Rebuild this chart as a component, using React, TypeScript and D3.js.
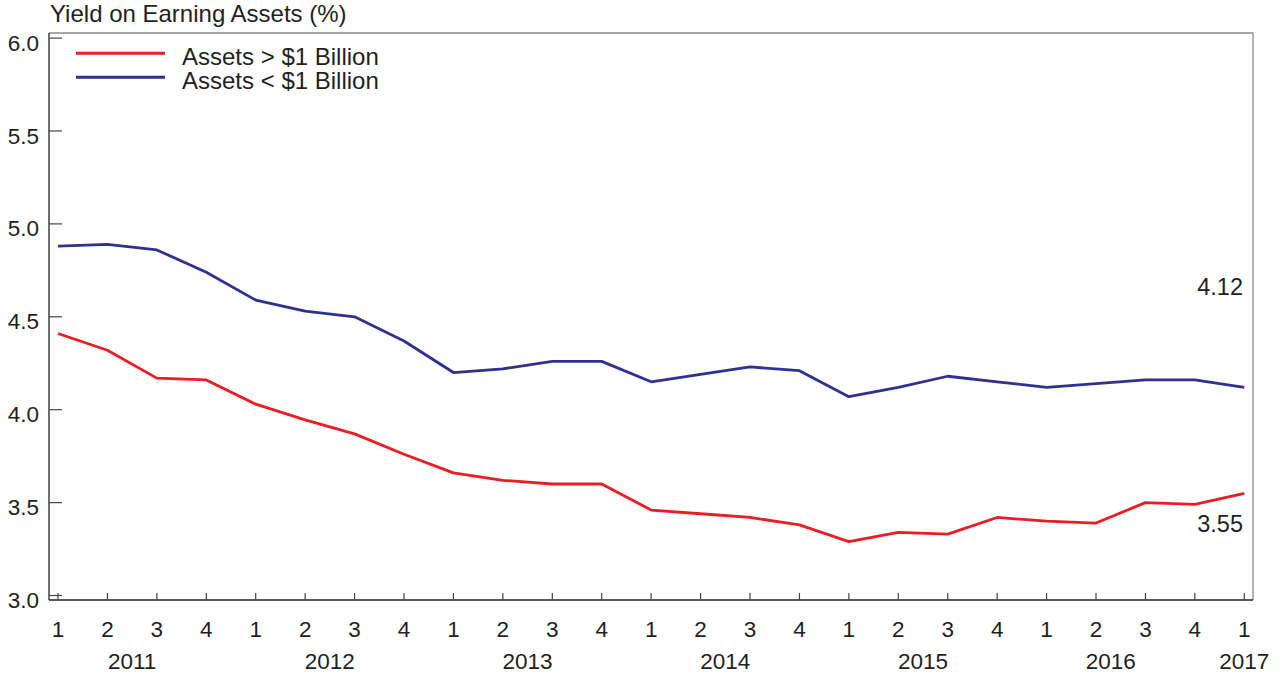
import React from "react";
import * as d3 from "d3";

const quarters = ["1","2","3","4","1","2","3","4","1","2","3","4","1","2","3","4","1","2","3","4","1","2","3","4","1"];
const years = ["2011","2012","2013","2014","2015","2016","2017"];
// position (in quarter index units) of each year label
const yearPos = [1.5, 5.5, 9.5, 13.5, 17.5, 21.3, 24];
const large = [4.41,4.32,4.17,4.16,4.03,3.945,3.87,3.76,3.66,3.62,3.60,3.60,3.46,3.44,3.42,3.38,3.29,3.34,3.33,3.42,3.40,3.39,3.50,3.49,3.55];
const small = [4.88,4.89,4.86,4.74,4.59,4.53,4.50,4.37,4.20,4.22,4.26,4.26,4.15,4.19,4.23,4.21,4.07,4.12,4.18,4.15,4.12,4.14,4.16,4.16,4.12];
const yTicks = [3.0,3.5,4.0,4.5,5.0,5.5,6.0];
const seriesNames = ["Assets > $1 Billion", "Assets < $1 Billion"];
const colors = ["#ed1c24", "#2e3192"];

const W = 1285, H = 677;
const left = 49, right = 1253, top = 33, bottom = 600;
const font = "'Liberation Sans', Arial, Helvetica, sans-serif";
const ink = "#231f20";

export default function App() {
  const x = d3.scaleLinear().domain([0, 24]).range([58, 1244.3]);
  const y = d3.scaleLinear().domain([3, 6]).range([595.5, 38.1]);
  const line = d3.line<number>().x((_, i) => x(i)).y((d) => y(d));
  const series = [large, small];
  return (
    <svg width={W} height={H} style={{ position: "absolute", left: 0, top: 0, background: "#fff" }} fontFamily={font}>
      <rect x={0} y={0} width={W} height={H} fill="#fff" />
      <text x={50} y={22} fontSize={24} fill={ink}>Yield on Earning Assets (%)</text>
      {/* frame */}
      <line x1={left} x2={right} y1={top} y2={top} stroke="#8a8a8a" strokeWidth={1.3} />
      <line x1={right} x2={right} y1={top} y2={bottom} stroke="#8a8a8a" strokeWidth={1.3} />
      <line x1={left} x2={left} y1={top} y2={bottom} stroke={ink} strokeWidth={1.3} />
      <line x1={left} x2={right} y1={bottom} y2={bottom} stroke={ink} strokeWidth={1.3} />
      {/* y ticks */}
      {yTicks.map((t) => (
        <g key={t}>
          <line x1={left} x2={left + 13} y1={y(t)} y2={y(t)} stroke="#444" strokeWidth={1.2} />
          <text x={39} y={y(t) + 12.5} textAnchor="end" fontSize={22.5} fill={ink}>{t.toFixed(1)}</text>
        </g>
      ))}
      {/* x ticks */}
      {quarters.map((q, i) => (
        <g key={i}>
          <line x1={x(i)} x2={x(i)} y1={bottom} y2={bottom - 7} stroke="#444" strokeWidth={1.2} />
          <text x={x(i)} y={637} textAnchor="middle" fontSize={22.5} fill={ink}>{q}</text>
        </g>
      ))}
      {years.map((yr, i) => (
        <text key={yr} x={x(yearPos[i])} y={669} textAnchor="middle" fontSize={22.5} fill={ink}>{yr}</text>
      ))}
      {/* lines */}
      {series.map((s, k) => (
        <path key={k} d={line(s) || ""} fill="none" stroke={colors[k]} strokeWidth={2.8} strokeLinejoin="round" />
      ))}
      {/* end labels */}
      <text x={1243} y={295} textAnchor="end" fontSize={23.5} fill={ink}>{small[small.length - 1].toFixed(2)}</text>
      <text x={1243} y={532} textAnchor="end" fontSize={23.5} fill={ink}>{large[large.length - 1].toFixed(2)}</text>
      {/* legend */}
      {seriesNames.map((n, k) => (
        <g key={n}>
          <line x1={76} x2={165} y1={53.3 + k * 24} y2={53.3 + k * 24} stroke={colors[k]} strokeWidth={3} />
          <text x={182} y={65 + k * 24} fontSize={24} fill={ink}>{n}</text>
        </g>
      ))}
    </svg>
  );
}
